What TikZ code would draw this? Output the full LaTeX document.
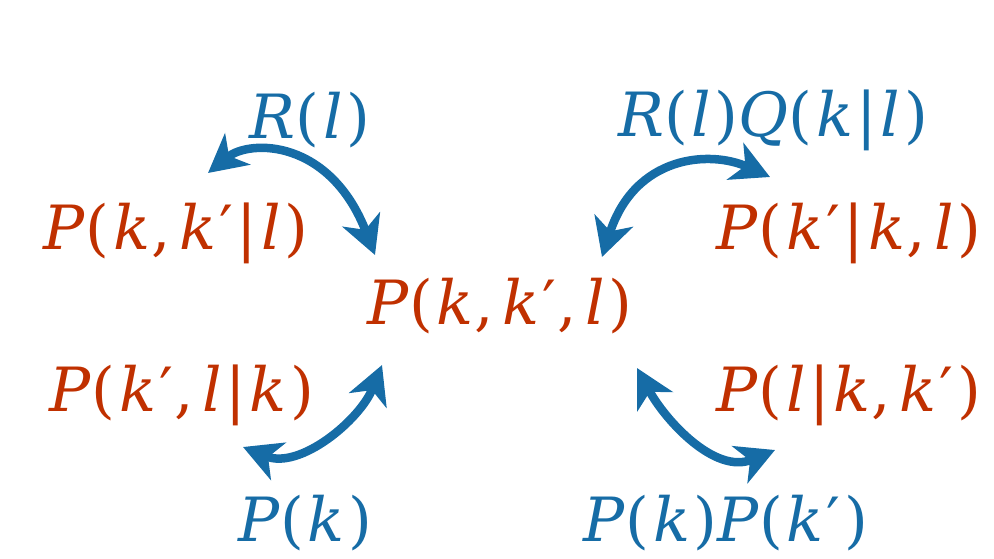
\documentclass[tikz,border=0pt]{standalone}
\usepackage{fontspec}
\setmainfont{DejaVu Serif}
\usetikzlibrary{arrows.meta}
\definecolor{cblue}{RGB}{22,108,166}
\definecolor{cred}{RGB}{192,48,0}
\newcommand\vv[1]{\textit{#1}}
\newcommand\pr{\kern0.05em′}
\newcommand\cm{\kern0.02em,\kern0.14em}
\newcommand\op{(\kern0.06em}
\newcommand\cp{\kern0.06em)}
\newcommand\br{\kern0.06em|\kern0.06em}
\begin{document}
\begin{tikzpicture}[x=1pt,y=-1pt,
  lab/.style={inner sep=0pt,font=\fontsize{61}{66}\selectfont},
  redlab/.style={lab,text=cred},
  bluelab/.style={lab,text=cblue},
  tip/.style={Stealth[length=38pt,width=40pt,inset=11pt]},
  link/.style={draw=cblue,line width=8.5pt,{Stealth[length=38pt,width=40pt,inset=11pt]}-{Stealth[length=38pt,width=40pt,inset=11pt]}}]
\useasboundingbox (0,0) rectangle (994,558);
\node[bluelab] (rl) at (310,120) {\vv{R}\op\vv{l}\cp};
\node[redlab] (pkkl) at (176,233) {\vv{P}\op\vv{k}\cm\vv{k}\pr\br\vv{l}\cp};
\node[bluelab] (rq) at (773,120) {\vv{R}\op\vv{l}\cp\vv{Q}\op\vv{k}\br\vv{l}\cp};
\node[redlab] (pkpkl) at (849,233) {\vv{P}\op\vv{k}\pr\br\vv{k}\cm\vv{l}\cp};
\node[redlab] (joint) at (500,306) {\vv{P}\op\vv{k}\cm\vv{k}\pr\cm\vv{l}\cp};
\node[redlab] (pkl) at (182,395) {\vv{P}\op\vv{k}\pr\cm\vv{l}\br\vv{k}\cp};
\node[redlab] (plkk) at (849,395) {\vv{P}\op\vv{l}\br\vv{k}\cm\vv{k}\pr\cp};
\node[bluelab] (pk) at (305,523) {\vv{P}\op\vv{k}\cp};
\node[bluelab] (pkpk) at (726,523) {\vv{P}\op\vv{k}\cp\vv{P}\op\vv{k}\pr\cp};
\coordinate (a1s) at (208,173);
\coordinate (a1e) at (375,255);
\coordinate (a2s) at (602,257);
\coordinate (a2e) at (770,177);
\coordinate (a3s) at (382,365);
\coordinate (a3e) at (243,447);
\coordinate (a4s) at (637,368);
\coordinate (a4e) at (775,450);
\draw[link] (a1s) .. controls (250,139) and (330,139) .. (a1e);
\draw[link] (a2s) .. controls (635,155) and (710,150) .. (a2e);
\draw[link] (a3s) .. controls (360,420) and (300,470) .. (a3e);
\draw[link] (a4s) .. controls (665,420) and (715,475) .. (a4e);
\end{tikzpicture}
\end{document}
